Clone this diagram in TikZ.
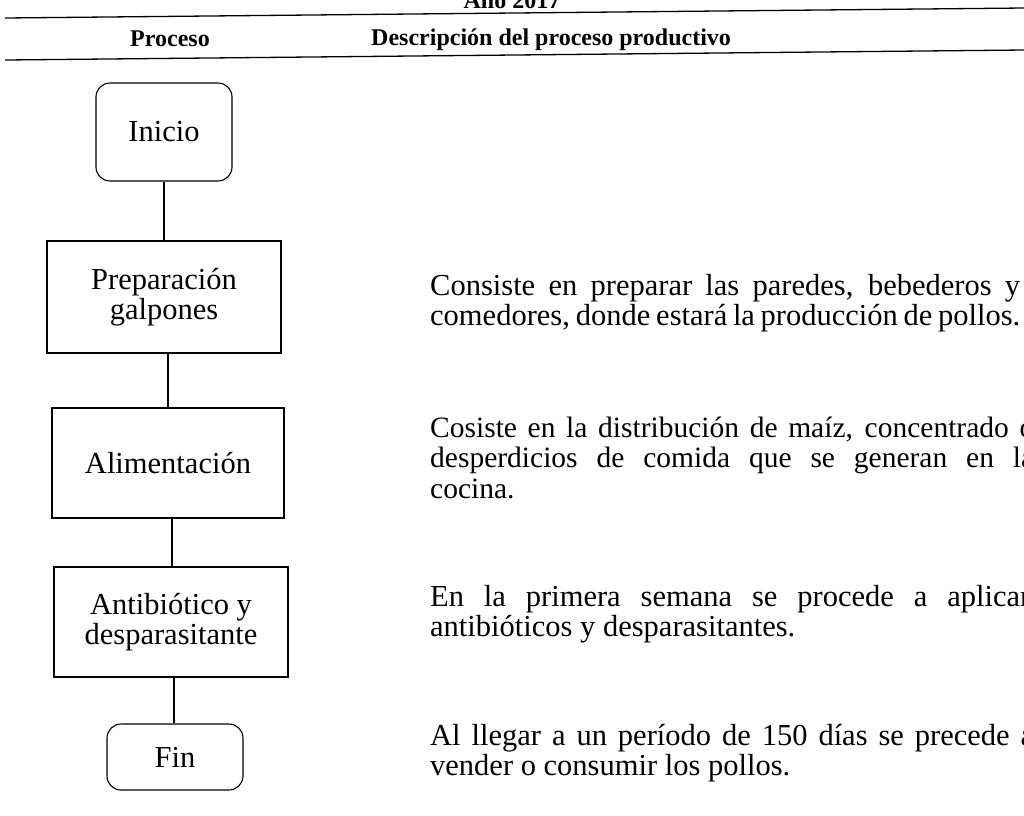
\documentclass[tikz,border=0pt]{standalone}
\usepackage{fontspec}
\setmainfont{Liberation Serif}
\hyphenpenalty=10000
\exhyphenpenalty=10000
\tolerance=9999
\hfuzz=100pt
\begin{document}
\begin{tikzpicture}[x=1pt,y=-1pt,
  every node/.style={font=\fontsize{30.5}{30.5}\selectfont},
  procbox/.style={draw, line width=1.1pt, align=center, inner sep=0pt},
  roundbox/.style={procbox, rounded corners=14pt},
  conn/.style={line width=1.1pt},
  rule/.style={line width=1.3pt},
  hdr/.style={font=\fontsize{24}{26}\selectfont\bfseries, inner sep=0pt},
  desc/.style={anchor=base west, text width=#1, align=justify, inner sep=0pt}]
\useasboundingbox (0,0) rectangle (1024,815);
\clip (0,0) rectangle (1024,815);
% header
\node[hdr, anchor=base] (year) at (512,8) {Año 2017};
\coordinate (r1a) at (5,18);
\coordinate (r1b) at (1024,8);
\coordinate (r2a) at (5,60);
\coordinate (r2b) at (1024,50);
\draw[rule] (r1a) -- (r1b);
\draw[rule] (r2a) -- (r2b);
\node[hdr, anchor=base] (hproc) at (170,46) {Proceso};
\node[hdr, anchor=base west] (hdesc) at (371,45) {Descripción del proceso productivo};
% flowchart
\node[roundbox, minimum width=136pt, minimum height=98pt] (ini) at (164,132) {Inicio};
\node[procbox, minimum width=234pt, minimum height=112pt] (prep) at (164,297) {Preparación\\galpones};
\node[procbox, minimum width=232pt, minimum height=110pt] (alim) at (168,463) {Alimentación};
\node[procbox, minimum width=234pt, minimum height=110pt] (anti) at (171,622) {Antibiótico y\\desparasitante};
\node[roundbox, minimum width=136pt, minimum height=66pt] (fin) at (175,757) {Fin};
\draw[conn] (ini.south) -- (ini.south |- prep.north);
\draw[conn] ([xshift=4pt]prep.south) -- ([xshift=4pt]prep.south |- alim.north);
\draw[conn] ([xshift=4pt]alim.south) -- ([xshift=4pt]alim.south |- anti.north);
\draw[conn] ([xshift=3pt]anti.south) -- ([xshift=3pt]anti.south |- fin.north);
% descriptions
\node[desc=590pt] (d1) at (430,295) {Consiste en preparar las paredes, bebederos y comedores, donde estará la producción de pollos.};
\node[desc=604pt, font=\fontsize{29.5}{30.5}\selectfont] (d2) at (430,437) {\spaceskip=0.21em plus 0.3em minus 0.04em\relax Cosiste en la distribución de maíz, concentrado o\linebreak desperdicios de comida que se generan en la\linebreak cocina.};
\node[desc=600pt] (d3) at (430,606) {En la primera semana se procede a aplicar antibióticos y desparasitantes.};
\node[desc=604pt] (d4) at (430,745) {Al llegar a un período de 150 días se precede a vender o consumir los pollos.};
\end{tikzpicture}
\end{document}
